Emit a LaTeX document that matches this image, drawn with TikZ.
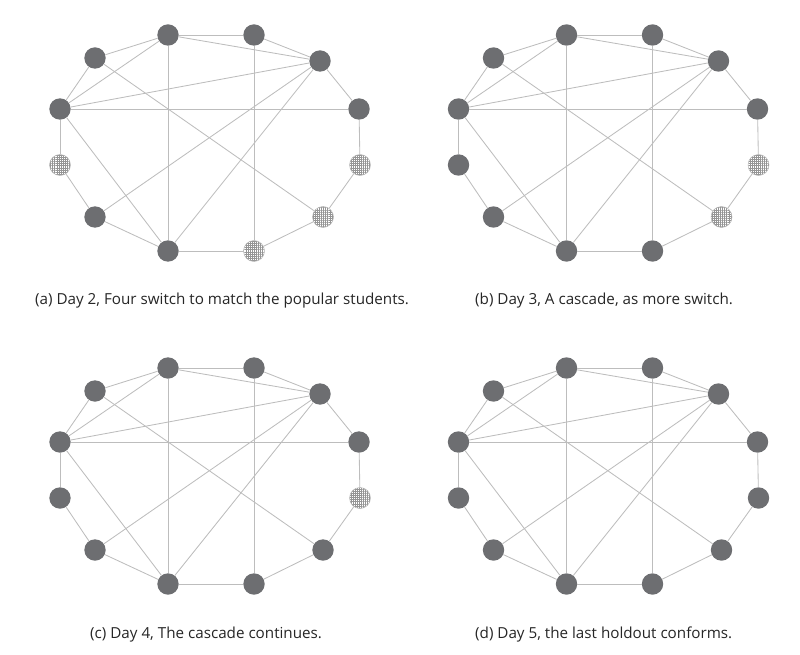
\documentclass[tikz,border=0pt]{standalone}
\usepackage{fontspec}
\setmainfont{Open Sans}
\usetikzlibrary{patterns.meta}
\definecolor{nodegray}{HTML}{6D6E71}
\definecolor{edgegray}{HTML}{BDBDBD}
\definecolor{gridgray}{HTML}{959595}
\tikzset{
  fillnode/.style={circle, inner sep=0pt, minimum size=21.4pt, fill=nodegray, draw=none},
  hatchnode/.style={circle, inner sep=0pt, minimum size=21pt, fill=white, draw=gridgray!70, line width=0.5pt,
     pattern={Hatch[angle=0,distance=2.1pt,line width=0.4pt]}, pattern color=gridgray},
  link/.style={draw=edgegray, line width=0.85pt},
  caption/.style={anchor=base west, inner sep=0pt, font=\fontsize{15.2}{18}\selectfont, text=black!85}
}
\newcommand\drawpanel[3]{%
  \foreach \n in {#3}{\expandafter\gdef\csname hx-#1-\n\endcsname{}}%
  \begin{scope}[shift={#2}]
    \foreach \n/\px/\py in {A/168/35, B/254/35, C/95/58, D/320/61, E/60/109, F/359/109,
                             G/60/165, H/360/165, I/95/217, J/323/217, K/168/251, L/254/251}{
      \ifcsname hx-#1-\n\endcsname\def\nodest{hatchnode}\else\def\nodest{fillnode}\fi
      \node[\nodest] (#1\n) at (\px,\py) {};
    }
  \end{scope}
  \foreach \s/\t in {A/B, B/D, D/F, F/H, H/J, J/L, L/K, K/I, I/G, G/E, E/C, C/A,
                     A/D, A/E, A/K, B/L, C/J, D/E, D/I, D/K, E/F, E/K}{
    \draw[link] (#1\s) -- (#1\t);
  }
}
\begin{document}
\begin{tikzpicture}[x=1pt, y=-1pt]
  \useasboundingbox (0,0) rectangle (800,655);
  \drawpanel{a}{(0,0)}{G,H,J,L}
  \drawpanel{b}{(398.5,0)}{H,J}
  \drawpanel{c}{(0,333)}{H}
  \drawpanel{d}{(398.5,333)}{}
  \node[caption] (capa) at (35,304) {(a) Day 2, Four switch to match the popular students.};
  \node[caption] (capb) at (475,304) {(b) Day 3, A cascade, as more switch.};
  \node[caption] (capc) at (90,638) {(c) Day 4, The cascade continues.};
  \node[caption] (capd) at (475,638) {(d) Day 5, the last holdout conforms.};
\end{tikzpicture}
\end{document}
